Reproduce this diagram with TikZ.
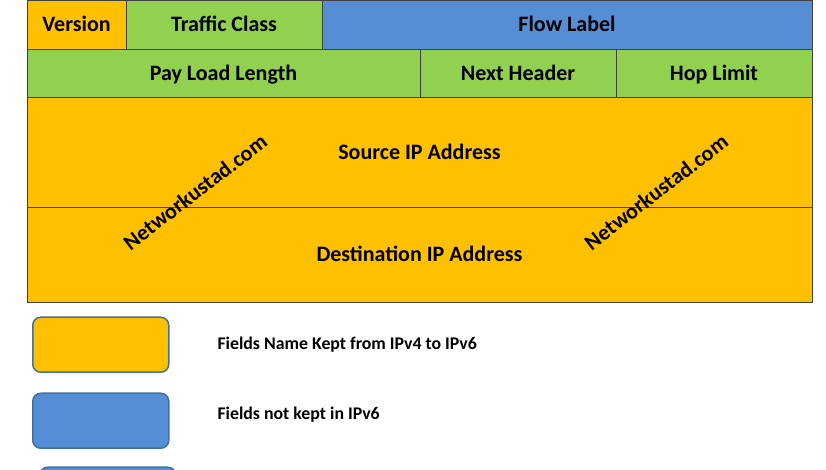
\documentclass[tikz,border=0pt]{standalone}
\usepackage{fontspec}
\setmainfont{Carlito}
\usepackage{tikz}
\usetikzlibrary{positioning}
\definecolor{kept}{RGB}{255,192,0}
\definecolor{newf}{RGB}{146,208,80}
\definecolor{gone}{RGB}{85,142,213}
\definecolor{edge}{RGB}{65,113,156}
\tikzstyle{f}=[draw=black!75, line width=0.8pt, rectangle, anchor=south west, inner sep=0pt, outer sep=0pt, text height=15pt, text depth=0.5pt, font=\fontsize{22}{0}\selectfont\bfseries]
\tikzstyle{leg}=[draw=edge, line width=1.5pt, rounded corners=8pt, rectangle, anchor=south west, minimum width=136pt, minimum height=55pt]
\tikzstyle{wm}=[rotate=37.5, font=\fontsize{22}{0}\selectfont\bfseries]

\begin{document}
\begin{tikzpicture}[auto, x=1pt, y=1pt]
\clip (0,0) rectangle (826,470);
\node[f, fill=kept, minimum width=99pt, minimum height=49pt] (ver) at (27,421) {Version};
\node[f, fill=newf, minimum width=196pt, minimum height=49pt, right=0pt of ver] (tc) {Traffic Class};
\node[f, fill=gone, minimum width=490pt, minimum height=49pt, right=0pt of tc] (fl) {Flow Label};

\node[f, fill=newf, minimum width=393pt, minimum height=48pt, anchor=north west] (pll) at (ver.south west) {Pay Load Length};
\node[f, fill=newf, minimum width=196pt, minimum height=48pt, right=0pt of pll] (nh) {Next Header};
\node[f, fill=newf, minimum width=196pt, minimum height=48pt, right=0pt of nh] (hl) {Hop Limit};

\node[f, fill=kept, minimum width=785pt, minimum height=110pt, anchor=north west] (src) at (pll.south west) {Source IP Address};
\node[f, fill=kept, minimum width=785pt, minimum height=95pt, anchor=north west] (dst) at (src.south west) {Destination IP Address};

\node[wm] (wm1) at (195,278) {Networkustad.com};
\node[wm] (wm2) at (656,278) {Networkustad.com};

% legend
\node[leg, fill=kept] (lk) at (32,97) {};
\node[font=\fontsize{17.8}{0}\selectfont\bfseries, anchor=west] (tk) at (214,125) {Fields Name Kept from IPv4 to IPv6};
\node[leg, fill=gone] (lg) at (32,21) {};
\node[font=\fontsize{17.8}{0}\selectfont\bfseries, anchor=west] (tg) at (214,55) {Fields not kept in IPv6};
\node[leg, fill=gone] (ln) at (39,-53) {};
\end{tikzpicture}
\end{document}
